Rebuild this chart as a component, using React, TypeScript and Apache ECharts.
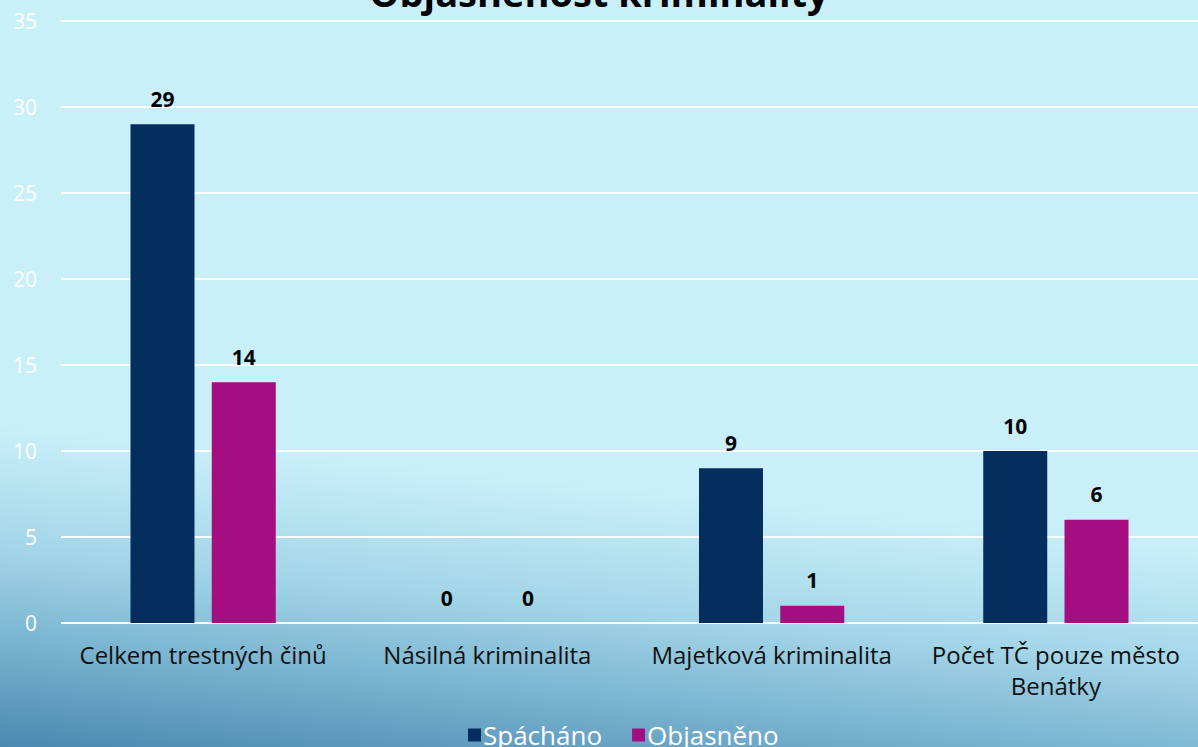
import React, { useEffect, useRef } from "react";
import * as echarts from "echarts";

const categories = [
  "Celkem trestných činů",
  "Násilná kriminalita",
  "Majetková kriminalita",
  "Počet TČ pouze město Benátky",
];
const spachano = [29, 0, 9, 10];
const objasneno = [14, 0, 1, 6];
const seriesNames = ["Spácháno", "Objasněno"];
const titleText = "Objasněnost kriminality";

const FONT = "'Open Sans', 'DejaVu Sans', sans-serif";

export default function App() {
  const ref = useRef<HTMLDivElement>(null);
  useEffect(() => {
    document.body.style.margin = "0";
    const chart = echarts.init(ref.current!, null, { renderer: "svg" });
    const labelStyle = {
      show: true,
      position: "top",
      distance: 15,
      color: "#000",
      fontWeight: "bold",
      fontSize: 21,
      fontFamily: FONT,
    };
    chart.setOption({
      animation: false,
      backgroundColor: "#c9f0f9",
      textStyle: { fontFamily: FONT },
      graphic: [
        {
          type: "polygon",
          z: -10,
          silent: true,
          shape: {
            points: [
              [0, 420],
              [1198, 540],
              [1198, 747],
              [0, 747],
            ],
          },
          style: {
            fill: {
              type: "linear",
              x: 0,
              y: 425,
              x2: -40,
              y2: 825,
              global: true,
              colorStops: [
                { offset: 0, color: "#c9f0f9" },
                { offset: 0.3, color: "#a4d6e8" },
                { offset: 0.5, color: "#80b9d4" },
                { offset: 0.8, color: "#4a88b1" },
                { offset: 1, color: "#3a78a4" },
              ],
            },
          },
        },
      ],
      title: {
        text: titleText,
        left: "center",
        top: -32,
        textStyle: { fontSize: 38, fontWeight: "bold", color: "#000", fontFamily: FONT },
      },
      grid: { left: 61, right: 0, top: 21, bottom: 124, containLabel: false },
      legend: {
        data: seriesNames,
        top: 717,
        left: 463,
        itemWidth: 13,
        itemHeight: 13,
        itemGap: 30,
        icon: "rect",
        textStyle: { color: "#ffffff", fontSize: 26, padding: [0, 0, 0, -3], fontFamily: FONT },
      },
      xAxis: {
        type: "category",
        data: categories,
        axisLine: { show: false },
        axisTick: { show: false },
        axisLabel: {
          color: "#111",
          fontSize: 24,
          margin: 16,
          lineHeight: 31,
          interval: 0,
          fontFamily: FONT,
          formatter: (v: string) => v.replace("město ", "město\n"),
        },
      },
      yAxis: {
        type: "value",
        min: 0,
        max: 35,
        interval: 5,
        axisLine: { show: false },
        axisTick: { show: false },
        axisLabel: { color: "#ffffff", fontSize: 21, margin: 24, fontFamily: FONT },
        splitLine: { lineStyle: { color: "#ffffff", width: 2 } },
      },
      series: [
        {
          name: seriesNames[0],
          type: "bar",
          data: spachano,
          barWidth: 64,
          barGap: "27%",
          itemStyle: { color: "#052e5f" },
          label: labelStyle,
        },
        {
          name: seriesNames[1],
          type: "bar",
          data: objasneno,
          barWidth: 64,
          itemStyle: { color: "#a50e80" },
          label: labelStyle,
        },
      ],
    });
    return () => chart.dispose();
  }, []);
  return (
    <div
      ref={ref}
      style={{ position: "fixed", left: 0, top: 0, width: 1198, height: 747 }}
    />
  );
}
